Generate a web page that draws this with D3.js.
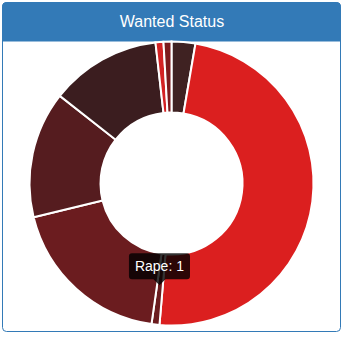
<!DOCTYPE html>
<html>
<head>
<meta charset="utf-8">
<script src="https://cdn.jsdelivr.net/npm/d3@7"></script>
<style>
  body { margin: 0; background: #fff; font-family: "Liberation Sans", Arial, sans-serif; }
</style>
</head>
<body>
<script>
// Page size.
const WIDTH = 354;
const HEIGHT = 343;

// Data, in drawing order (clockwise from 12 o'clock).
const labels = ["Murder", "Theft", "Rape", "Robbery", "Assault", "Fraud", "Kidnapping", "Arson"];
const counts = [3, 54, 1, 21, 16, 14, 1, 1];
const colors = ["#3f2222", "#db1f1f", "#6b1c1f", "#6b1c1f", "#551c1f", "#3b1d1f", "#d42224", "#7d1a1d"];
const hovered = "Rape";

const svg = d3.select("body").append("svg").attr("width", WIDTH).attr("height", HEIGHT);

// Panel and header.
const panel = { x: 2.5, y: 2.5, w: 338, h: 329, header: 38.5 };
svg.append("rect")
    .attr("x", panel.x).attr("y", panel.y)
    .attr("width", panel.w).attr("height", panel.h)
    .attr("rx", 4)
    .attr("fill", "#fff").attr("stroke", "#337ab7").attr("stroke-width", 1);
svg.append("path")
    .attr("d", `M${panel.x},${panel.y + panel.header} V${panel.y + 4} Q${panel.x},${panel.y} ${panel.x + 4},${panel.y}
                H${panel.x + panel.w - 4} Q${panel.x + panel.w},${panel.y} ${panel.x + panel.w},${panel.y + 4} V${panel.y + panel.header} Z`)
    .attr("fill", "#337ab7").attr("stroke", "#337ab7");
svg.append("text")
    .attr("x", 172).attr("y", 27)
    .attr("text-anchor", "middle")
    .attr("fill", "#fff")
    .style("font-size", "16px")
    .text("Wanted Status");

// Donut
const cx = 171.5, cy = 183.5;
const outerR = 142, innerR = 71;

const pie = d3.pie().sort(null).value((d) => d.count);
const arc = d3.arc().innerRadius(innerR).outerRadius(outerR);
const data = labels.map((l, i) => ({ label: l, count: counts[i], color: colors[i] }));
const arcs = pie(data);

const g = svg.append("g").attr("transform", `translate(${cx},${cy})`);
g.selectAll("path").data(arcs)
    .enter().append("path")
    .attr("d", arc)
    .attr("fill", (d) => d.data.color)
    .attr("stroke", "#fff")
    .attr("stroke-width", 2);

// Tooltip for the hovered slice
const target = arcs.find((d) => d.data.label === hovered);
const [tx, ty] = arc.centroid(target);
const tipX = cx + tx, tipY = cy + ty - 4;
const caret = 6;

const tip = svg.append("g");
const tipText = tip.append("text")
    .attr("fill", "#fff")
    .style("font-size", "14px")
    .attr("text-anchor", "middle")
    .text(`${target.data.label}: ${target.data.count}`);
const tw = tipText.node().getComputedTextLength();
const boxW = tw + 12, boxH = 26;
const boxX = tipX - boxW / 2, boxY = tipY - caret - boxH;

tip.insert("path", "text")
    .attr("d", `M${boxX + 3},${boxY} H${boxX + boxW - 3} Q${boxX + boxW},${boxY} ${boxX + boxW},${boxY + 3}
                V${boxY + boxH - 3} Q${boxX + boxW},${boxY + boxH} ${boxX + boxW - 3},${boxY + boxH}
                H${tipX + caret} L${tipX},${tipY} L${tipX - caret},${boxY + boxH}
                H${boxX + 3} Q${boxX},${boxY + boxH} ${boxX},${boxY + boxH - 3}
                V${boxY + 3} Q${boxX},${boxY} ${boxX + 3},${boxY} Z`)
    .attr("fill", "rgba(0,0,0,0.8)");
tipText.attr("x", tipX).attr("y", boxY + 18);
</script>
</body>
</html>
